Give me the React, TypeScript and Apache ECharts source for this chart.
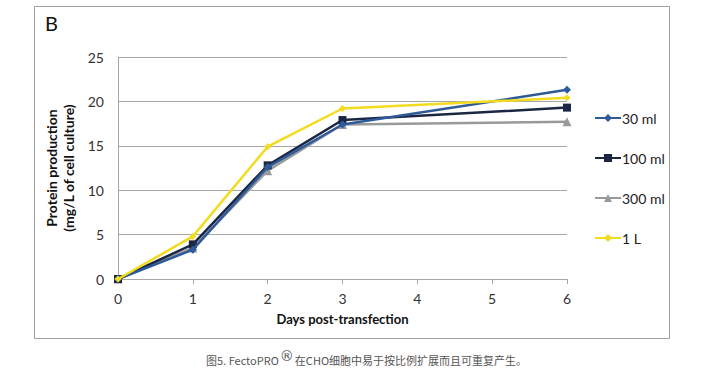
import React, { useEffect, useRef } from "react";
import * as echarts from "echarts";

const days = [0, 1, 2, 3, 6];
const s30ml = [0, 3.3, 12.6, 17.4, 21.3];
const s100ml = [0, 3.9, 12.8, 17.9, 19.3];
const s300ml = [0, 3.5, 12.2, 17.4, 17.7];
const s1L = [0, 4.8, 14.9, 19.2, 20.4];
const seriesNames = ["30 ml", "100 ml", "300 ml", "1 L"];
const yTicks = [0, 5, 10, 15, 20, 25];
const xTicks = [0, 1, 2, 3, 4, 5, 6];

const FONT = "Lato, 'Open Sans', sans-serif";

export default function App() {
  const ref = useRef<HTMLDivElement>(null);
  useEffect(() => {
    const chart = echarts.init(ref.current!, undefined, { renderer: "svg" });
    const mk = (vals: number[]) => days.map((d, i) => [d, vals[i]]);
    const colors = ["#2F5A9A", "#1B2742", "#9A9A9A", "#F3DB1E"];
    const symbols = ["diamond", "rect", "triangle", "diamond"];
    const sizes = [8, 8, 9, 7];
    const datas = [s30ml, s100ml, s300ml, s1L];
    chart.setOption({
      animation: false,
      backgroundColor: "#ffffff",
      textStyle: { fontFamily: FONT },
      grid: { left: 118, right: 143, top: 57, bottom: 92 },
      graphic: [
        {
          type: "rect",
          shape: { x: 34.5, y: 6.5, width: 635, height: 332 },
          style: { fill: "none", stroke: "#A0A0A0", lineWidth: 1 },
          z: -1,
        },
        {
          type: "text",
          left: 45,
          top: 13,
          style: { text: "B", fontSize: 20, fill: "#111", fontFamily: FONT },
        },
        {
          type: "text",
          left: 206,
          top: 349,
          style: {
            text: "{a|图5. FectoPRO}{s|®}{a|在CHO细胞中易于按比例扩展而且可重复产生。}",
            rich: {
              a: { fontSize: 11, fill: "#555", fontFamily: "'Noto Sans CJK SC', sans-serif", lineHeight: 16, verticalAlign: "bottom" },
              s: { fontSize: 14, fill: "#555", fontFamily: "'DejaVu Sans', sans-serif", lineHeight: 16, verticalAlign: "top", padding: [0, 1, 0, 1] },
            },
          },
        },
      ],
      legend: {
        orient: "vertical",
        left: 589,
        top: 106,
        itemWidth: 26,
        itemHeight: 10,
        itemGap: 26,
        data: seriesNames,
        textStyle: { fontSize: 14, color: "#222", fontFamily: FONT, padding: [0, 0, 0, -4] },
      },
      xAxis: {
        type: "value",
        min: 0,
        max: 6,
        interval: 1,
        name: "Days post-transfection",
        nameLocation: "middle",
        nameGap: 33,
        nameTextStyle: { fontWeight: "bold", fontSize: 13, color: "#111", fontFamily: FONT },
        axisLine: { show: true, lineStyle: { color: "#A6A6A6" } },
        axisTick: { show: true, length: 5, lineStyle: { color: "#A6A6A6" } },
        axisLabel: { fontSize: 14, color: "#333", margin: 12, fontFamily: FONT },
        splitLine: { show: false },
      },
      yAxis: {
        type: "value",
        min: 0,
        max: 25,
        interval: 5,
        name: "Protein production\n(mg/L of cell culture)",
        nameLocation: "middle",
        nameGap: 36,
        nameTextStyle: { fontWeight: "bold", fontSize: 14, color: "#111", lineHeight: 17, fontFamily: FONT },
        axisLine: { show: true, lineStyle: { color: "#A6A6A6" } },
        axisTick: { show: false },
        axisLabel: { fontSize: 14, color: "#333", margin: 14, fontFamily: FONT },
        splitLine: { show: true, lineStyle: { color: "#A6A6A6" } },
      },
      series: datas.map((d, i) => ({
        name: seriesNames[i],
        type: "line",
        data: mk(d),
        symbol: symbols[i],
        symbolSize: sizes[i],
        showSymbol: true,
        lineStyle: { color: colors[i], width: 2.5 },
        itemStyle: { color: colors[i] },
        z: i === 3 ? 5 : 4 - i,
      })),
    });
    return () => chart.dispose();
  }, []);
  return (
    <div
      ref={ref}
      style={{ position: "fixed", left: 0, top: 0, width: 710, height: 371 }}
    />
  );
}
